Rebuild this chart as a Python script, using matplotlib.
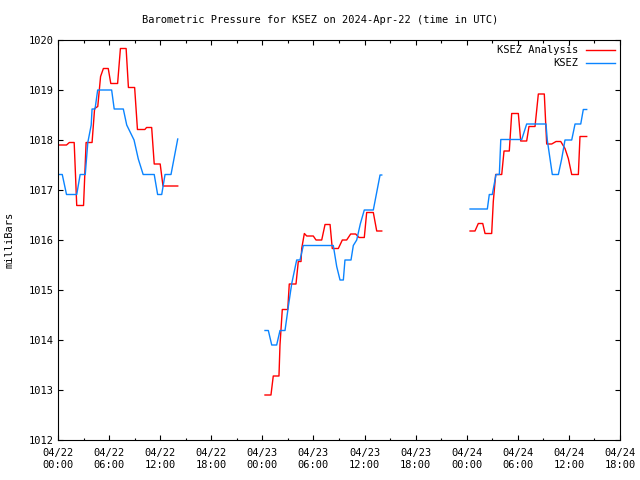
import numpy as np
import matplotlib
matplotlib.use("Agg")
import matplotlib.pyplot as plt
from matplotlib.ticker import MultipleLocator

# hours since 2024-04-22 00:00 UTC, pressure in mb
nan = np.nan

ana_t = [0, 1.0, 1.33, 1.9, 2.2, 3.0, 3.3, 4.0, 4.3, 4.67, 5.0, 5.33, 5.9, 6.2, 7.0,
         7.33, 8.0, 8.27, 9.0, 9.33, 10.2, 10.4, 11.0, 11.3, 12.0, 12.33, 14.06,
         14.5,
         24.31, 25.01, 25.28, 25.95, 26.07, 26.34, 26.98, 27.16, 27.95, 28.22, 28.54,
         28.62, 28.93, 29.21, 29.98, 30.3, 30.97, 31.36, 31.95, 32.21, 32.92, 33.39,
         33.9, 34.37, 34.96, 35.35, 35.97, 36.25, 37.03, 37.43, 38.02,
         38.5,
         48.39, 48.97, 49.36, 49.88, 50.15, 50.93, 51.12, 51.4, 52.11, 52.38, 53.0,
         53.28, 54.06, 54.34, 55.04, 55.31, 56.02, 56.41, 57.11, 57.39, 57.98, 58.49,
         59.04, 59.54, 59.93, 60.33, 61.11, 61.3, 62.09]
ana_p = [1017.90, 1017.90, 1017.95, 1017.95, 1016.69, 1016.69, 1017.95, 1017.95,
         1018.63, 1018.67, 1019.27, 1019.43, 1019.43, 1019.13, 1019.13, 1019.83,
         1019.83, 1019.05, 1019.05, 1018.21, 1018.21, 1018.25, 1018.25, 1017.52,
         1017.52, 1017.08, 1017.08,
         nan,
         1012.90, 1012.90, 1013.28, 1013.28, 1013.90, 1014.61, 1014.61, 1015.12,
         1015.12, 1015.57, 1015.57, 1015.83, 1016.13, 1016.08, 1016.08, 1016.00,
         1016.00, 1016.31, 1016.31, 1015.83, 1015.83, 1016.00, 1016.00, 1016.12,
         1016.12, 1016.05, 1016.05, 1016.55, 1016.55, 1016.18, 1016.18,
         nan,
         1016.18, 1016.18, 1016.33, 1016.33, 1016.13, 1016.13, 1016.77, 1017.31,
         1017.31, 1017.78, 1017.78, 1018.53, 1018.53, 1017.98, 1017.98, 1018.27,
         1018.27, 1018.92, 1018.92, 1017.92, 1017.92, 1017.97, 1017.97, 1017.83,
         1017.63, 1017.31, 1017.31, 1018.07, 1018.07]

obs_t = [0, 0.5, 1.0, 2.2, 2.6, 3.2, 3.5, 3.9, 4.0, 4.35, 4.66, 6.3, 6.6, 7.67, 8.07,
         8.93, 9.43, 10.0, 11.3, 11.7, 12.18, 12.57, 13.27, 14.06,
         14.5,
         24.31, 24.7, 25.1, 25.68, 26.07, 26.66, 27.05, 27.45, 28.03, 28.42, 28.81,
         32.33, 32.73, 33.12, 33.51, 33.7, 34.41, 34.68, 35.08, 35.5, 35.97, 37.03,
         37.82, 38.02,
         38.5,
         48.39, 50.42, 50.65, 51.0, 51.44, 51.83, 52.0, 54.46, 55.04, 57.31, 57.46,
         58.05, 58.76, 59.15, 59.54, 60.33, 60.72, 61.39, 61.69, 62.09]
obs_p = [1017.31, 1017.31, 1016.91, 1016.91, 1017.31, 1017.31, 1017.95, 1018.30,
         1018.62, 1018.62, 1019.00, 1019.00, 1018.62, 1018.62, 1018.30, 1018.00,
         1017.62, 1017.31, 1017.31, 1016.91, 1016.91, 1017.31, 1017.31, 1018.02,
         nan,
         1014.19, 1014.19, 1013.90, 1013.90, 1014.19, 1014.19, 1014.67, 1015.13,
         1015.60, 1015.60, 1015.89, 1015.89, 1015.47, 1015.20, 1015.20, 1015.60,
         1015.60, 1015.89, 1016.00, 1016.32, 1016.60, 1016.60, 1017.30, 1017.30,
         nan,
         1016.62, 1016.62, 1016.91, 1016.91, 1017.31, 1017.31, 1018.01, 1018.01,
         1018.32, 1018.32, 1018.00, 1017.31, 1017.31, 1017.62, 1018.00, 1018.00,
         1018.32, 1018.32, 1018.61, 1018.61]

xticks = np.arange(0, 67, 6)
xlabels = ["04/22\n00:00", "04/22\n06:00", "04/22\n12:00", "04/22\n18:00",
           "04/23\n00:00", "04/23\n06:00", "04/23\n12:00", "04/23\n18:00",
           "04/24\n00:00", "04/24\n06:00", "04/24\n12:00", "04/24\n18:00"]

plt.rcParams['font.family'] = 'DejaVu Sans Mono'
plt.rcParams['font.size'] = 7.5

fig = plt.figure(figsize=(6.4, 4.8), dpi=100)
ax = fig.add_axes([58 / 640, 40 / 480, 562 / 640, 400 / 480])

ax.plot(ana_t, ana_p, color='#ff0000', lw=1.0, label='KSEZ Analysis')
ax.plot(obs_t, obs_p, color='#0a84ff', lw=1.0, label='KSEZ')

ax.set_xlim(0, 66)
ax.set_ylim(1012, 1020)
ax.set_xticks(xticks)
ax.set_xticklabels(xlabels)
ax.xaxis.set_minor_locator(MultipleLocator(3))
ax.set_yticks(np.arange(1012, 1021, 1))
ax.tick_params(which='both', direction='in', top=True, right=True, width=0.8)
ax.tick_params(which='major', length=3.5)
ax.tick_params(which='minor', length=1.8)
ax.tick_params(axis='x', pad=6)
ax.tick_params(axis='y', pad=3)
for s in ax.spines.values():
    s.set_linewidth(0.8)

ax.set_ylabel('milliBars', labelpad=10)
fig.text(0.5, 1 - 20 / 480, 'Barometric Pressure for KSEZ on 2024-Apr-22 (time in UTC)',
         ha='center', va='center')

ax.legend(loc='upper right', frameon=False, markerfirst=False, handlelength=2.8,
          handletextpad=0.7, labelspacing=0.3, borderaxespad=0.3, borderpad=0.2)

fig.savefig('out.png', dpi=100)
